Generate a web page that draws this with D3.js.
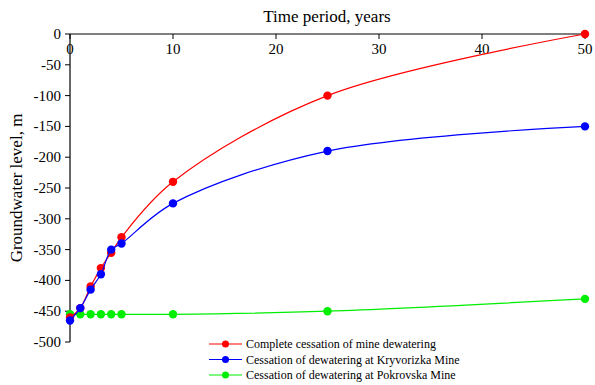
<!DOCTYPE html>
<html>
<head>
<meta charset="utf-8">
<script src="https://cdn.jsdelivr.net/npm/d3@7"></script>
<style>
  body { margin: 0; background: #fff; }
</style>
</head>
<body>
<div id="chart"></div>
<script>
const years = [0, 1, 2, 3, 4, 5, 10, 25, 50];
const complete = [-460, -445, -410, -380, -355, -330, -240, -100, 0];
const kryvorizka = [-465, -445, -415, -390, -350, -340, -275, -190, -150];
const pokrovska = [-455, -455, -455, -455, -455, -455, -455, -450, -430];
const xTicks = [0, 10, 20, 30, 40, 50];
const yTicks = [0, -50, -100, -150, -200, -250, -300, -350, -400, -450, -500];

const series = [
  { name: "Complete cessation of mine dewatering", values: complete, color: "#ff0000" },
  { name: "Cessation of dewatering at Kryvorizka Mine", values: kryvorizka, color: "#0000ff" },
  { name: "Cessation of dewatering at Pokrovska Mine", values: pokrovska, color: "#00ee00" }
];

const width = 595, height = 385;
const svg = d3.select("#chart").append("svg")
  .attr("width", width)
  .attr("height", height)
  .attr("font-family", "'Liberation Serif', 'Times New Roman', Times, serif");

const x = d3.scaleLinear().domain([0, 50]).range([70, 585]);
const y = d3.scaleLinear().domain([-500, 0]).range([342, 34]);

// top x axis, ticks pointing down into the plot
svg.append("line")
  .attr("x1", x(0)).attr("x2", x(50))
  .attr("y1", y(0)).attr("y2", y(0))
  .attr("stroke", "#000").attr("stroke-width", 1.2);
svg.selectAll(".xtick").data(xTicks).enter().append("line")
  .attr("x1", d => x(d)).attr("x2", d => x(d))
  .attr("y1", y(0)).attr("y2", y(0) + 5)
  .attr("stroke", "#000");
svg.selectAll(".xlab").data(xTicks).enter().append("text")
  .attr("x", d => x(d)).attr("y", y(0) + 20)
  .attr("text-anchor", "middle")
  .attr("font-size", 15)
  .text(d => d);

// left y axis
svg.append("line")
  .attr("x1", x(0)).attr("x2", x(0))
  .attr("y1", y(0)).attr("y2", y(-500))
  .attr("stroke", "#000").attr("stroke-width", 1.2);
svg.selectAll(".ytick").data(yTicks).enter().append("line")
  .attr("x1", x(0) - 5).attr("x2", x(0))
  .attr("y1", d => y(d)).attr("y2", d => y(d))
  .attr("stroke", "#000");
svg.selectAll(".ylab").data(yTicks).enter().append("text")
  .attr("x", x(0) - 9).attr("y", d => y(d) + 5)
  .attr("text-anchor", "end")
  .attr("font-size", 15)
  .text(d => d);

svg.append("text")
  .attr("x", 327).attr("y", 22)
  .attr("text-anchor", "middle")
  .attr("font-size", 17)
  .text("Time period, years");

svg.append("text")
  .attr("transform", "translate(22,188) rotate(-90)")
  .attr("text-anchor", "middle")
  .attr("font-size", 17)
  .text("Groundwater level, m");

const line = d3.line()
  .x(d => x(d[0]))
  .y(d => y(d[1]))
  .curve(d3.curveCatmullRom.alpha(0.5));

// draw green first, then red, then blue on top
[series[2], series[0], series[1]].forEach(s => {
  const pts = years.map((yr, i) => [yr, s.values[i]]);
  svg.append("path")
    .attr("d", line(pts))
    .attr("fill", "none")
    .attr("stroke", s.color)
    .attr("stroke-width", 1.2);
  svg.selectAll(null).data(pts).enter().append("circle")
    .attr("cx", d => x(d[0])).attr("cy", d => y(d[1]))
    .attr("r", 4.2)
    .attr("fill", s.color);
});

// legend
const legend = svg.append("g");
series.forEach((s, i) => {
  const ly = 344 + i * 15.5;
  legend.append("line")
    .attr("x1", 209).attr("x2", 242)
    .attr("y1", ly).attr("y2", ly)
    .attr("stroke", s.color).attr("stroke-width", 1.2);
  legend.append("circle")
    .attr("cx", 225.5).attr("cy", ly).attr("r", 3.5)
    .attr("fill", s.color);
  legend.append("text")
    .attr("x", 246).attr("y", ly + 4)
    .attr("font-size", 12)
    .text(s.name);
});
</script>
</body>
</html>
